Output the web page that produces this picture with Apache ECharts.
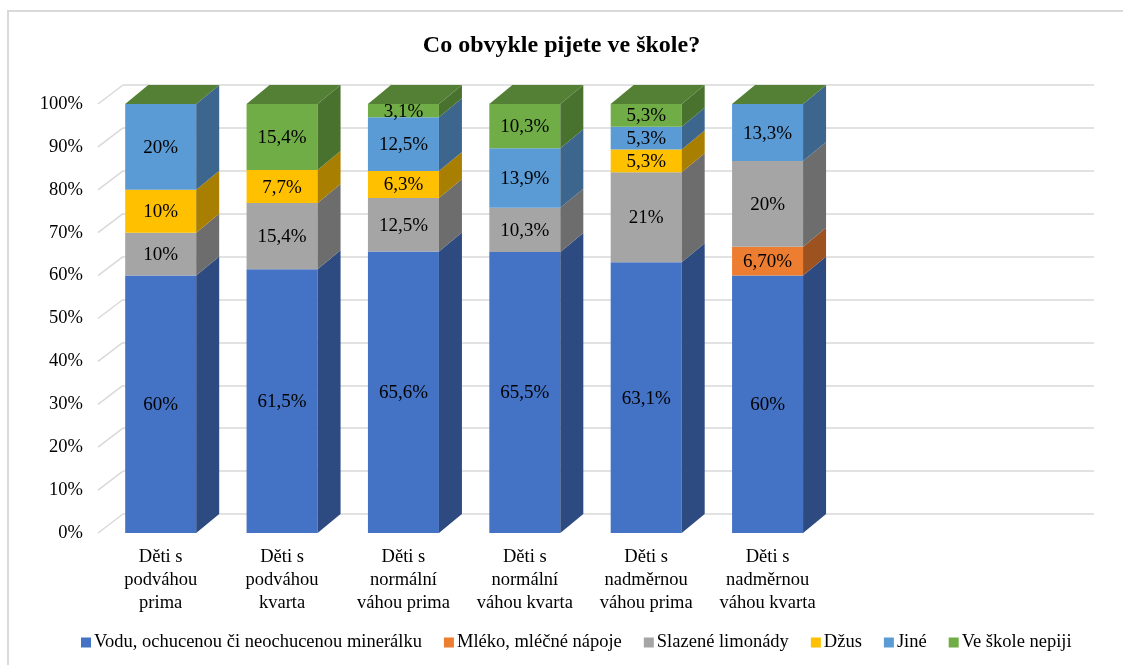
<!DOCTYPE html>
<html>
<head>
<meta charset="utf-8">
<script src="https://cdn.jsdelivr.net/npm/echarts@6/dist/echarts.min.js"></script>
<style>html,body{margin:0;padding:0;background:#fff}#c{width:1123px;height:665px}</style>
</head>
<body>
<div id="c"></div>
<script>
const categories = ['Děti s\npodváhou\nprima', 'Děti s\npodváhou\nkvarta', 'Děti s\nnormální\nváhou prima', 'Děti s\nnormální\nváhou kvarta', 'Děti s\nnadměrnou\nváhou prima', 'Děti s\nnadměrnou\nváhou kvarta'];
const seriesNames = ['Vodu, ochucenou či neochucenou minerálku', 'Mléko, mléčné nápoje', 'Slazené limonády', 'Džus', 'Jiné', 'Ve škole nepiji'];
const vodu     = [60, 61.5, 65.6, 65.5, 63.1, 60];
const mleko    = [0, 0, 0, 0, 0, 6.7];
const limonady = [10, 15.4, 12.5, 10.3, 21, 20];
const dzus     = [10, 7.7, 6.3, 0, 5.3, 0];
const jine     = [20, 0, 12.5, 13.9, 5.3, 13.3];
const nepiji   = [0, 15.4, 3.1, 10.3, 5.3, 0];
const yTicks   = [0, 10, 20, 30, 40, 50, 60, 70, 80, 90, 100];

const allValues = [vodu, mleko, limonady, dzus, jine, nepiji];
const colors = ['#4472C4', '#ED7D31', '#A5A5A5', '#FFC000', '#5B9BD5', '#70AD47'];
const DX = 23, DY = -19;
const FONT = '"Liberation Serif", "Times New Roman", serif';

function shade(hex, f) {
  const n = parseInt(hex.slice(1), 16);
  const r = Math.round(((n >> 16) & 255) * f), g = Math.round(((n >> 8) & 255) * f), b = Math.round((n & 255) * f);
  return 'rgb(' + r + ',' + g + ',' + b + ')';
}
function fmt(v, si) {
  if (si === 1) return v.toFixed(2).replace('.', ',') + '%';
  return String(v).replace('.', ',') + '%';
}

const xData = categories.concat(['', '']);
const series = [];

// left wall diagonal gridlines
series.push({
  type: 'custom', xAxisIndex: 0, yAxisIndex: 0, silent: true, z: 1,
  data: yTicks.map(t => [0, t]),
  encode: { x: 0, y: 1 },
  renderItem: function (params, api) {
    const y = api.coord([0, api.value(1)])[1];
    const x = params.coordSys.x;
    return { type: 'line', shape: { x1: x - 2, y1: y, x2: x + DX, y2: y + DY }, style: { stroke: '#D9D9D9', lineWidth: 1.5 } };
  }
});

const base = categories.map(() => 0);
allValues.forEach((vals, si) => {
  const data = vals.map((v, j) => { const d = [j, base[j], v]; base[j] += v; return d; });
  const isTop = si === allValues.length - 1;
  const col = colors[si];
  series.push({
    type: 'custom', name: seriesNames[si], xAxisIndex: 0, yAxisIndex: 0, z: 3,
    itemStyle: { color: col },
    data: data,
    encode: { x: 0, y: 2 },
    renderItem: function (params, api) {
      const cat = api.value(0), b = api.value(1), v = api.value(2);
      const p0 = api.coord([cat, b]), p1 = api.coord([cat, b + v]);
      const bw = api.size([1, 0])[0] * 0.585;
      const x0 = p0[0] - bw / 2, x1 = p0[0] + bw / 2;
      const yb = p0[1], yt = p1[1];
      const children = [];
      if (v > 0) {
        children.push({ type: 'rect', shape: { x: x0, y: yt, width: bw, height: yb - yt }, style: { fill: col } });
        children.push({ type: 'polygon', shape: { points: [[x1, yb], [x1, yt], [x1 + DX, yt + DY], [x1 + DX, yb + DY]] }, style: { fill: shade(col, 0.66) } });
      }
      if (isTop) {
        children.push({ type: 'polygon', shape: { points: [[x0, yt], [x1, yt], [x1 + DX, yt + DY], [x0 + DX, yt + DY]] }, style: { fill: shade(col, 0.74) } });
      }
      if (v > 0) {
        children.push({ type: 'text', style: { text: fmt(v, si), x: p0[0], y: (yb + yt) / 2 + 1, align: 'center', verticalAlign: 'middle', fontSize: 19, fontFamily: FONT, fill: '#000' } });
      }
      return { type: 'group', children: children };
    }
  });
});

const chart = echarts.init(document.getElementById('c'));
chart.setOption({
  backgroundColor: '#fff',
  animation: false,
  title: {
    text: 'Co obvykle pijete ve škole?', left: 'center', top: 29,
    textStyle: { fontFamily: FONT, fontSize: 24, fontWeight: 'bold', color: '#000' }
  },
  graphic: [{ type: 'rect', shape: { x: 8, y: 11, width: 1140, height: 700 }, style: { fill: 'none', stroke: '#D9D9D9', lineWidth: 2 }, z: -10, silent: true }],
  legend: {
    bottom: 8, left: 76, icon: 'rect', itemWidth: 10, itemHeight: 10, itemGap: 22,
    data: seriesNames,
    textStyle: { fontFamily: FONT, fontSize: 18.5, color: '#000', padding: [0, 0, 0, -2] }
  },
  grid: [
    { left: 100, top: 104, width: 971, height: 429 },
    { left: 123, top: 85, width: 971, height: 429 }
  ],
  xAxis: [
    { type: 'category', gridIndex: 0, data: xData, axisLine: { show: false }, axisTick: { show: false },
      axisLabel: { interval: 0, fontFamily: FONT, fontSize: 18.5, lineHeight: 23, color: '#000', margin: 13 } },
    { type: 'category', gridIndex: 1, data: xData, axisLine: { show: false }, axisTick: { show: false }, axisLabel: { show: false } }
  ],
  yAxis: [
    { type: 'value', gridIndex: 0, min: 0, max: 100, interval: 10, splitLine: { show: false }, axisLine: { show: false }, axisTick: { show: false },
      axisLabel: { formatter: '{value}%', fontFamily: FONT, fontSize: 18.5, color: '#000', margin: 17 } },
    { type: 'value', gridIndex: 1, min: 0, max: 100, interval: 10, axisLine: { show: false }, axisTick: { show: false }, axisLabel: { show: false },
      splitLine: { show: true, lineStyle: { color: '#D9D9D9', width: 1.5 } } }
  ],
  series: series
});
</script>
</body>
</html>
